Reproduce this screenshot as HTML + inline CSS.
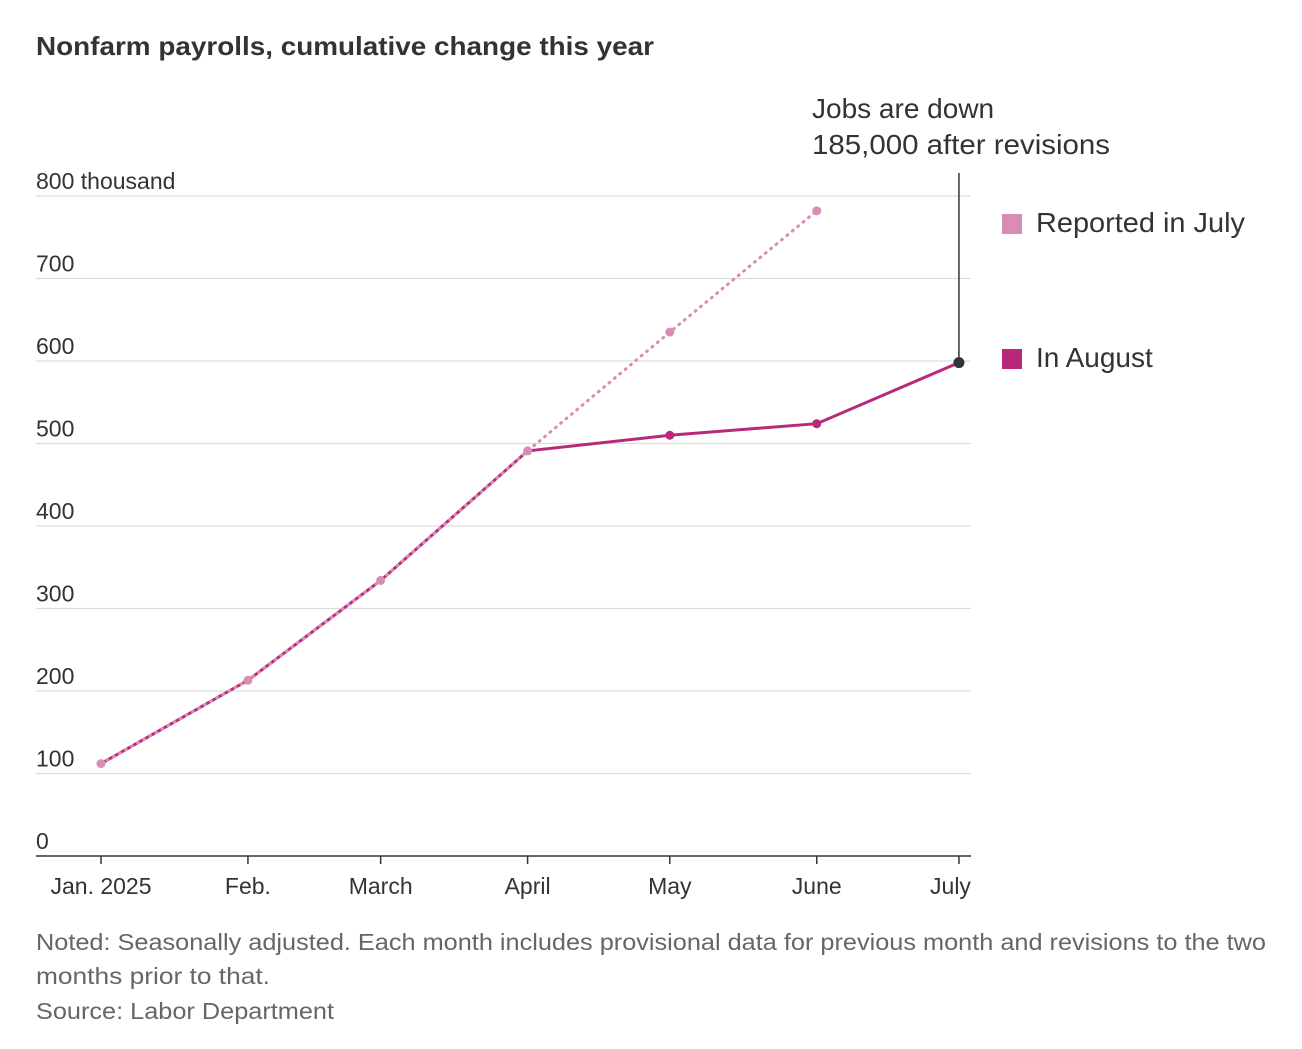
<!DOCTYPE html>
<html><head><meta charset="utf-8"><style>
body{margin:0;background:#fff;font-family:"Liberation Sans",sans-serif;color:#333}
svg text{font-family:"Liberation Sans Narrow","Liberation Sans",sans-serif}
</style></head><body>
<svg id="chart" width="1302" height="1044" xmlns="http://www.w3.org/2000/svg">
<text x="36" y="55" font-size="26" font-weight="bold" fill="#333" style="font-family:'Liberation Sans',sans-serif" textLength="618" lengthAdjust="spacingAndGlyphs">Nonfarm payrolls, cumulative change this year</text>
<g id="grid"></g><g id="lines"></g>
<text x="812" y="118" font-size="28" fill="#333">Jobs are down</text>
<text x="812" y="154" font-size="28" fill="#333" textLength="298" lengthAdjust="spacingAndGlyphs">185,000 after revisions</text>
<rect x="1002" y="214" width="20" height="20" fill="#d98db5"/>
<text x="1036" y="232" font-size="28" fill="#333" textLength="209" lengthAdjust="spacingAndGlyphs">Reported in July</text>
<rect x="1002" y="349" width="20" height="20" fill="#b8297c"/>
<text x="1036" y="367" font-size="28" fill="#333">In August</text>
<text font-size="23" fill="#666" style="font-family:'Liberation Sans',sans-serif"><tspan x="36" y="950" textLength="1230" lengthAdjust="spacingAndGlyphs">Noted: Seasonally adjusted. Each month includes provisional data for previous month and revisions to the two</tspan><tspan x="36" y="984" textLength="234" lengthAdjust="spacingAndGlyphs">months prior to that.</tspan><tspan x="36" y="1019" textLength="298" lengthAdjust="spacingAndGlyphs">Source: Labor Department</tspan></text>
</svg>
<script>
const months=["Jan. 2025","Feb.","March","April","May","June","July"];
const monthDays=[0,31,59,90,120,151,181];
const reported=[112,213,334,491,635,782];
const august=[112,213,334,491,510,524,598];
const yTicks=[0,100,200,300,400,500,600,700,800];
const yLabels=["0","100","200","300","400","500","600","700","800 thousand"];
const NS="http://www.w3.org/2000/svg";
const x=d=>101+d*4.74, y=v=>856-v*0.825;
function mk(p,t,a){const e=document.createElementNS(NS,t);for(const k in a)e.setAttribute(k,a[k]);p.appendChild(e);return e;}
const g=document.getElementById('grid'), L=document.getElementById('lines');
yTicks.forEach((v,i)=>{
 if(v>0){const ln=mk(g,'line',{x1:36,x2:971,y1:y(v),y2:y(v),stroke:'#ddd','stroke-width':1.2});
 
 }
 const t=mk(g,'text',{x:36,y:y(v)-7,'font-size':23,fill:'#333'});t.textContent=yLabels[i];
 
 
});
const ax=mk(g,'line',{x1:36,x2:971,y1:856,y2:856,stroke:'#333','stroke-width':1.5});


months.forEach((m,i)=>{
 const tx=x(monthDays[i]);
 const tk=mk(g,'line',{x1:tx,x2:tx,y1:856,y2:864,stroke:'#333','stroke-width':1.5});
 
 
 const t=mk(g,'text',{x:tx,y:894,'font-size':23,fill:'#333','text-anchor':i==6?'end':'middle'});
 if(i==6)t.setAttribute('x',tx+12);
 t.textContent=m;
 
 
});
const pa=august.map((v,i)=>x(monthDays[i])+','+y(v)).join(' ');
const la=mk(L,'polyline',{points:pa,fill:'none',stroke:'#b8297c','stroke-width':3});


const pr=reported.map((v,i)=>x(monthDays[i])+','+y(v)).join(' ');
const lr=mk(L,'polyline',{points:pr,fill:'none',stroke:'#d98db5','stroke-width':3,'stroke-dasharray':'1 6','stroke-linecap':'round'});


august.forEach((v,i)=>{if(i<4)return;
 const c=mk(L,'circle',{cx:x(monthDays[i]),cy:y(v),r:4.5,fill:i==6?'#333':'#b8297c'});
 
 
});
reported.forEach((v,i)=>{
 const c=mk(L,'circle',{cx:x(monthDays[i]),cy:y(v),r:4.5,fill:'#d98db5'});
 
 
});
const jx=x(monthDays[6]);
const al=mk(L,'line',{x1:jx,x2:jx,y1:173,y2:y(august[6]),stroke:'#333','stroke-width':1.5});


const jd=mk(L,'circle',{cx:jx,cy:y(august[6]),r:5.5,fill:'#333'});


</script>
</body></html>
